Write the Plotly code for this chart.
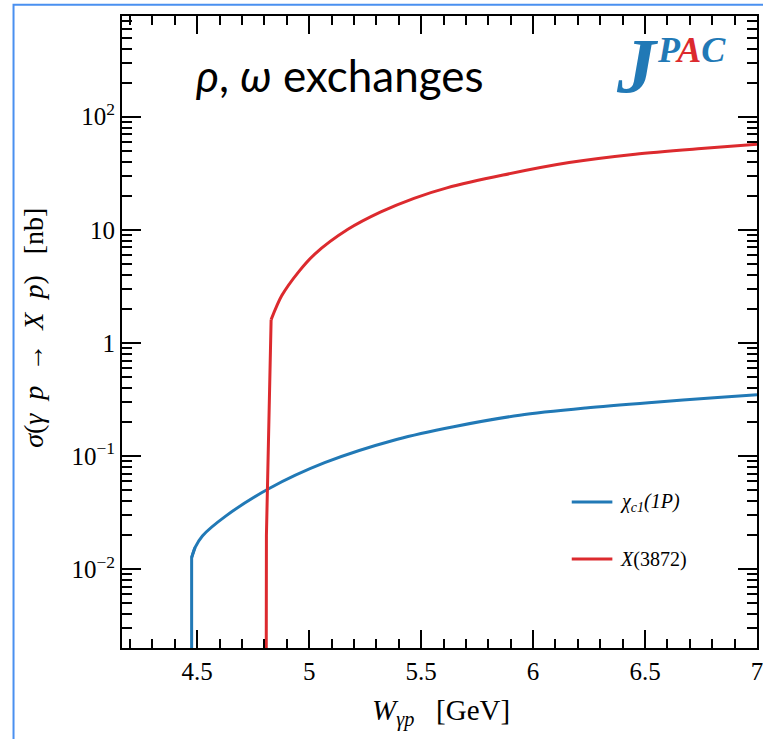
import plotly.graph_objects as go

# ---- data ----
chi_w = [4.475, 4.475, 4.49, 4.523, 4.627, 4.819, 5.069, 5.394, 5.645, 5.94, 6.235, 6.53, 6.824, 7.0]
chi_sigma = [0.001, 0.01267, 0.0155, 0.0197, 0.0295, 0.0515, 0.0875, 0.141, 0.182, 0.230, 0.266, 0.298, 0.33, 0.348]

x_w = [4.808, 4.809, 4.83, 4.877, 4.951, 5.025, 5.173, 5.32, 5.468, 5.615, 5.866, 6.161, 6.456, 6.751, 7.0]
x_sigma = [0.001, 0.02, 1.61, 2.61, 4.21, 6.1, 10.1, 14.4, 19.0, 23.5, 30.5, 39.3, 46.6, 52.3, 57.0]

x_tickvals = [4.5, 5, 5.5, 6, 6.5, 7]
x_ticktext = ["4.5", "5", "5.5", "6", "6.5", "7"]
y_tickvals = [0.01, 0.1, 1, 10, 100]
y_ticktext = ["10<sup>\u22122</sup>", "10<sup>\u22121</sup>", "1", "10", "10<sup>2</sup>"]
y_minor = [m * 10 ** e for e in range(-3, 3) for m in range(2, 10)]

series_names = ["<i>\u03c7<sub>c1</sub>(1P)</i>", "<i>X</i>(3872)"]
BLUE = "#2179b6"
RED = "#dc2a2e"

W, H = 763, 739
L, T, B, R = 122, 16, 91, 0
pw, ph = W - L - R, H - T - B

def px2px(x):
    return (x - L) / pw

def py2py(y):
    return (H - B - y) / ph

fig = go.Figure()
# threshold (vertical) parts drawn straight, smooth part as spline
fig.add_trace(go.Scatter(x=chi_w[:3], y=chi_sigma[:3], mode="lines", line=dict(color=BLUE, width=3),
                         name=series_names[0], showlegend=False))
fig.add_trace(go.Scatter(x=chi_w[1:], y=chi_sigma[1:], mode="lines",
                         line=dict(color=BLUE, width=3, shape="spline", smoothing=0.8),
                         name=series_names[0], showlegend=False))
fig.add_trace(go.Scatter(x=x_w[:3], y=x_sigma[:3], mode="lines", line=dict(color=RED, width=3),
                         name=series_names[1], showlegend=False))
fig.add_trace(go.Scatter(x=x_w[2:], y=x_sigma[2:], mode="lines",
                         line=dict(color=RED, width=3, shape="spline", smoothing=0.8),
                         name=series_names[1], showlegend=False))

serif = "Liberation Serif, serif"

fig.update_layout(
    width=W, height=H,
    margin=dict(l=L, r=R, t=T, b=B),
    paper_bgcolor="white", plot_bgcolor="white",
    font=dict(family=serif, color="black", size=24),
    xaxis=dict(
        range=[4.164, 7.0], showgrid=False, zeroline=False,
        showline=True, linecolor="black", linewidth=2, mirror="ticks",
        ticks="inside", ticklen=18, tickwidth=1.6, tickcolor="black",
        tickvals=x_tickvals, ticktext=x_ticktext, ticklabeloverflow="allow",
        tickfont=dict(family=serif, size=25),
        minor=dict(ticks="inside", ticklen=9, tickwidth=1.6, tickcolor="black", dtick=0.1, tick0=4.0, showgrid=False),
    ),
    yaxis=dict(
        type="log", range=[-2.696, 2.89], showgrid=False, zeroline=False,
        showline=True, linecolor="black", linewidth=2, mirror="ticks",
        ticks="inside", ticklen=19, tickwidth=1.6, tickcolor="black",
        tickvals=y_tickvals, ticktext=y_ticktext,
        tickfont=dict(family=serif, size=25),
        minor=dict(ticks="inside", ticklen=10, tickwidth=1.6, tickcolor="black", tickvals=y_minor, showgrid=False),
    ),
)

annotations = [
    # axis titles
    dict(text="<i>W</i><sub><i>\u03b3p</i></sub>   [GeV]", x=px2px(444), y=py2py(712), xref="paper", yref="paper",
         showarrow=False, font=dict(family=serif, size=29), xanchor="center", yanchor="middle"),
    dict(text="<i>\u03c3</i>(<i>\u03b3  p</i>  \u2192  <i>X  p</i>)   [nb]", x=px2px(32), y=py2py(328),
         xref="paper", yref="paper", showarrow=False, textangle=-90,
         font=dict(family=serif, size=28), xanchor="center", yanchor="middle"),
    # panel label
    dict(text="<i>\u03c1</i>, <i>\u03c9</i> exchanges", x=px2px(195), y=py2py(75), xref="paper", yref="paper",
         showarrow=False, font=dict(family="Lato", size=44),
         xanchor="left", yanchor="middle"),
    # JPAC logo
    dict(text="<b><i>J</i></b>", x=px2px(619), y=py2py(66), xref="paper", yref="paper", showarrow=False,
         font=dict(family=serif, size=78, color=BLUE), xanchor="left", yanchor="middle"),
    dict(text="<b><i><span style='color:%s'>P</span><span style='color:%s'>A</span><span style='color:%s'>C</span></i></b>"
              % (BLUE, RED, BLUE),
         x=px2px(660), y=py2py(50), xref="paper", yref="paper", showarrow=False,
         font=dict(family=serif, size=36), xanchor="left", yanchor="middle"),
    # legend labels
    dict(text=series_names[0], x=px2px(623), y=py2py(502), xref="paper", yref="paper", showarrow=False,
         font=dict(family=serif, size=20), xanchor="left", yanchor="middle"),
    dict(text=series_names[1], x=px2px(623), y=py2py(559), xref="paper", yref="paper", showarrow=False,
         font=dict(family=serif, size=20), xanchor="left", yanchor="middle"),
]
fig.update_layout(annotations=annotations)

shapes = [
    dict(type="line", xref="paper", yref="paper", x0=px2px(576), x1=px2px(617), y0=py2py(502), y1=py2py(502),
         line=dict(color=BLUE, width=3)),
    dict(type="line", xref="paper", yref="paper", x0=px2px(576), x1=px2px(617), y0=py2py(559), y1=py2py(559),
         line=dict(color=RED, width=3)),
    # slide frame
    dict(type="rect", xref="paper", yref="paper", x0=px2px(12.5), x1=px2px(800), y0=py2py(800), y1=py2py(4.7),
         line=dict(color="#4a90f0", width=2), layer="below"),
]
fig.update_layout(shapes=shapes)

fig.write_html("out.html", config={"displayModeBar": False},
               post_script="document.body.style.margin='0';document.body.style.overflow='hidden';")
